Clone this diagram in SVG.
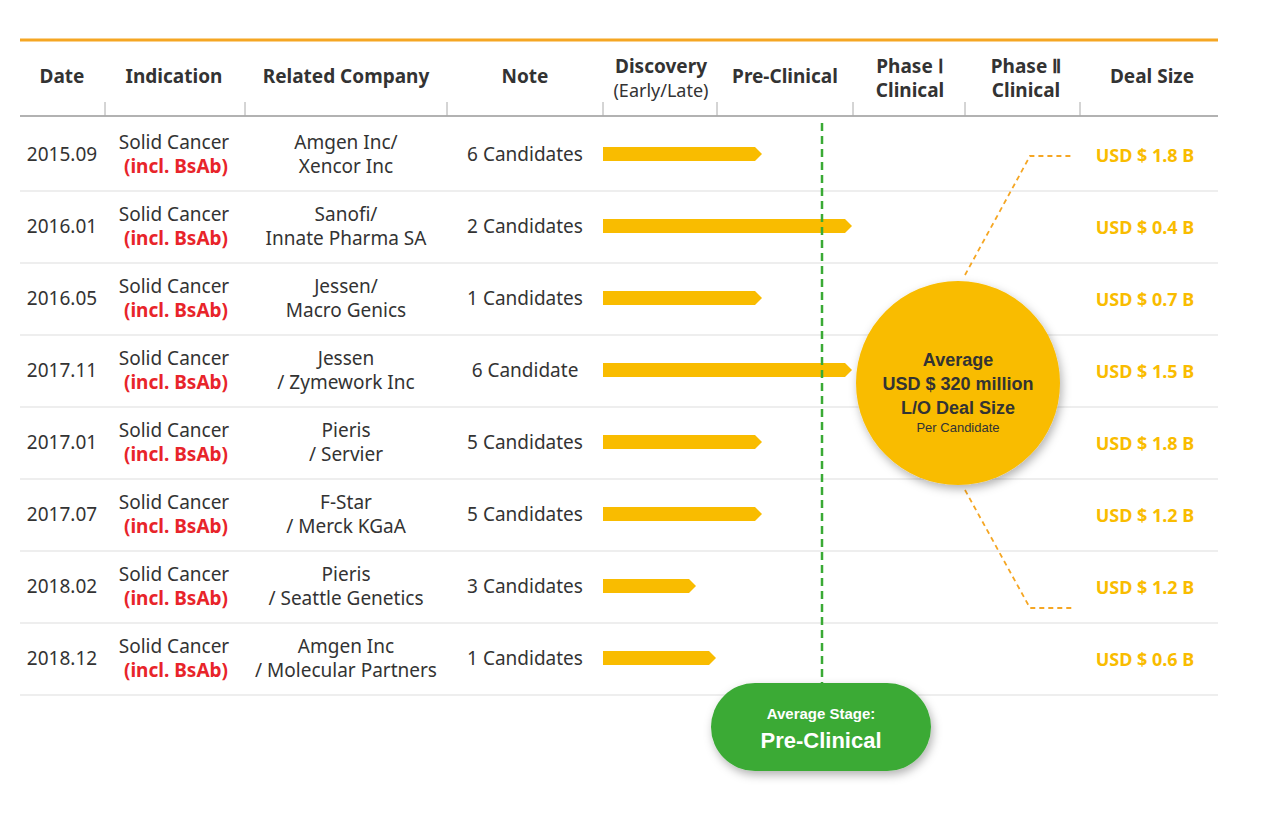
<svg xmlns="http://www.w3.org/2000/svg" width="1280" height="818" viewBox="0 0 1280 818">
<style>
text{font-family:"Noto Sans","Liberation Sans",sans-serif;fill:#333;text-anchor:middle}
.h{font-weight:bold;font-size:19px}
.c{font-size:19px}
.r{font-size:19px;font-weight:bold;fill:#e8242a}
.d{font-size:18px;font-weight:bold;fill:#f9bc00}
.row{stroke:#ddd;stroke-width:1.2}
.bar{fill:#f9bc00}
</style>
<defs>
<filter id="sh" x="-30%" y="-30%" width="160%" height="160%"><feDropShadow dx="2" dy="4" stdDeviation="5" flood-opacity="0.3"/></filter>
</defs>
<rect width="1280" height="818" fill="#fff"/>
<g id="header">
<line x1="20" y1="40" x2="1218" y2="40" stroke="#f5a623" stroke-width="3"/>
<line x1="20" y1="116" x2="1218" y2="116" stroke="#999" stroke-width="1.5"/>
<g stroke="#aaa"><line x1="105" y1="102" x2="105" y2="116"/><line x1="245" y1="102" x2="245" y2="116"/><line x1="447" y1="102" x2="447" y2="116"/><line x1="603" y1="102" x2="603" y2="116"/><line x1="717" y1="102" x2="717" y2="116"/><line x1="853" y1="102" x2="853" y2="116"/><line x1="965" y1="102" x2="965" y2="116"/><line x1="1080" y1="102" x2="1080" y2="116"/></g>
<text class="h" x="62" y="83">Date</text>
<text class="h" x="174" y="83">Indication</text>
<text class="h" x="346" y="83">Related Company</text>
<text class="h" x="525" y="83">Note</text>
<text class="h" x="661" y="73">Discovery</text>
<text class="c" x="661" y="97" style="font-size:18px">(Early/Late)</text>
<text class="h" x="785" y="83">Pre-Clinical</text>
<text class="h" x="910" y="73">Phase Ⅰ</text>
<text class="h" x="910" y="97">Clinical</text>
<text class="h" x="1026" y="73">Phase Ⅱ</text>
<text class="h" x="1026" y="97">Clinical</text>
<text class="h" x="1152" y="83">Deal Size</text>
</g>
<g id="rows">
<line class="row" x1="20" y1="191" x2="1218" y2="191"/><line class="row" x1="20" y1="263" x2="1218" y2="263"/><line class="row" x1="20" y1="335" x2="1218" y2="335"/><line class="row" x1="20" y1="407" x2="1218" y2="407"/><line class="row" x1="20" y1="479" x2="1218" y2="479"/><line class="row" x1="20" y1="551" x2="1218" y2="551"/><line class="row" x1="20" y1="623" x2="1218" y2="623"/><line class="row" x1="20" y1="695" x2="1218" y2="695"/>
</g>
<g id="data">
<text class="c" x="62" y="161">2015.09</text><text class="c" x="174" y="149">Solid Cancer</text><text class="r" x="176" y="173">(incl. BsAb)</text><text class="c" x="346" y="149">Amgen Inc/</text><text class="c" x="346" y="173">Xencor Inc</text><text class="c" x="525" y="161">6 Candidates</text><text class="d" x="1145" y="162">USD $ 1.8 B</text>
<text class="c" x="62" y="233">2016.01</text><text class="c" x="174" y="221">Solid Cancer</text><text class="r" x="176" y="245">(incl. BsAb)</text><text class="c" x="346" y="221">Sanofi/</text><text class="c" x="346" y="245">Innate Pharma SA</text><text class="c" x="525" y="233">2 Candidates</text><text class="d" x="1145" y="234">USD $ 0.4 B</text>
<text class="c" x="62" y="305">2016.05</text><text class="c" x="174" y="293">Solid Cancer</text><text class="r" x="176" y="317">(incl. BsAb)</text><text class="c" x="346" y="293">Jessen/</text><text class="c" x="346" y="317">Macro Genics</text><text class="c" x="525" y="305">1 Candidates</text><text class="d" x="1145" y="306">USD $ 0.7 B</text>
<text class="c" x="62" y="377">2017.11</text><text class="c" x="174" y="365">Solid Cancer</text><text class="r" x="176" y="389">(incl. BsAb)</text><text class="c" x="346" y="365">Jessen</text><text class="c" x="346" y="389">/ Zymework Inc</text><text class="c" x="525" y="377">6 Candidate</text><text class="d" x="1145" y="378">USD $ 1.5 B</text>
<text class="c" x="62" y="449">2017.01</text><text class="c" x="174" y="437">Solid Cancer</text><text class="r" x="176" y="461">(incl. BsAb)</text><text class="c" x="346" y="437">Pieris</text><text class="c" x="346" y="461">/ Servier</text><text class="c" x="525" y="449">5 Candidates</text><text class="d" x="1145" y="450">USD $ 1.8 B</text>
<text class="c" x="62" y="521">2017.07</text><text class="c" x="174" y="509">Solid Cancer</text><text class="r" x="176" y="533">(incl. BsAb)</text><text class="c" x="346" y="509">F-Star</text><text class="c" x="346" y="533">/ Merck KGaA</text><text class="c" x="525" y="521">5 Candidates</text><text class="d" x="1145" y="522">USD $ 1.2 B</text>
<text class="c" x="62" y="593">2018.02</text><text class="c" x="174" y="581">Solid Cancer</text><text class="r" x="176" y="605">(incl. BsAb)</text><text class="c" x="346" y="581">Pieris</text><text class="c" x="346" y="605">/ Seattle Genetics</text><text class="c" x="525" y="593">3 Candidates</text><text class="d" x="1145" y="594">USD $ 1.2 B</text>
<text class="c" x="62" y="665">2018.12</text><text class="c" x="174" y="653">Solid Cancer</text><text class="r" x="176" y="677">(incl. BsAb)</text><text class="c" x="346" y="653">Amgen Inc</text><text class="c" x="346" y="677">/ Molecular Partners</text><text class="c" x="525" y="665">1 Candidates</text><text class="d" x="1145" y="666">USD $ 0.6 B</text>
</g>
<g id="bars">
<path class="bar" d="M603 147H755L762 154L755 161H603Z"/>
<path class="bar" d="M603 219H845L852 226L845 233H603Z"/>
<path class="bar" d="M603 291H755L762 298L755 305H603Z"/>
<path class="bar" d="M603 363H845L852 370L845 377H603Z"/>
<path class="bar" d="M603 435H755L762 442L755 449H603Z"/>
<path class="bar" d="M603 507H755L762 514L755 521H603Z"/>
<path class="bar" d="M603 579H689L696 586L689 593H603Z"/>
<path class="bar" d="M603 651H709L716 658L709 665H603Z"/>
</g>
<g id="connectors" fill="none">
<line x1="822" y1="123" x2="822" y2="683" stroke="#3aaa35" stroke-width="2.5" stroke-dasharray="8 5"/>
<polyline points="965,275 1030,156 1072,156" stroke="#f5a623" stroke-width="1.8" stroke-dasharray="5 4"/>
<polyline points="965,490 1030,608 1072,608" stroke="#f5a623" stroke-width="1.8" stroke-dasharray="5 4"/>
</g>
<g id="avg-deal">
<circle cx="958" cy="383" r="102" fill="#f9bc00" filter="url(#sh)"/>
<text x="958" y="366" style="font-family:'Liberation Sans',sans-serif;font-weight:bold;font-size:18px">Average</text>
<text x="958" y="390" style="font-family:'Liberation Sans',sans-serif;font-weight:bold;font-size:18px">USD $ 320 million</text>
<text x="958" y="414" style="font-family:'Liberation Sans',sans-serif;font-weight:bold;font-size:18px">L/O Deal Size</text>
<text x="958" y="432" style="font-family:'Liberation Sans',sans-serif;font-size:13px">Per Candidate</text>
</g>
<g id="avg-stage">
<rect x="711" y="683" width="220" height="88" rx="44" fill="#3aaa35" filter="url(#sh)"/>
<text x="821" y="719" style="font-family:'Liberation Sans',sans-serif;font-weight:bold;font-size:15px;fill:#fff">Average Stage:</text>
<text x="821" y="748" style="font-family:'Liberation Sans',sans-serif;font-weight:bold;font-size:22px;fill:#fff">Pre-Clinical</text>
</g>
</svg>
